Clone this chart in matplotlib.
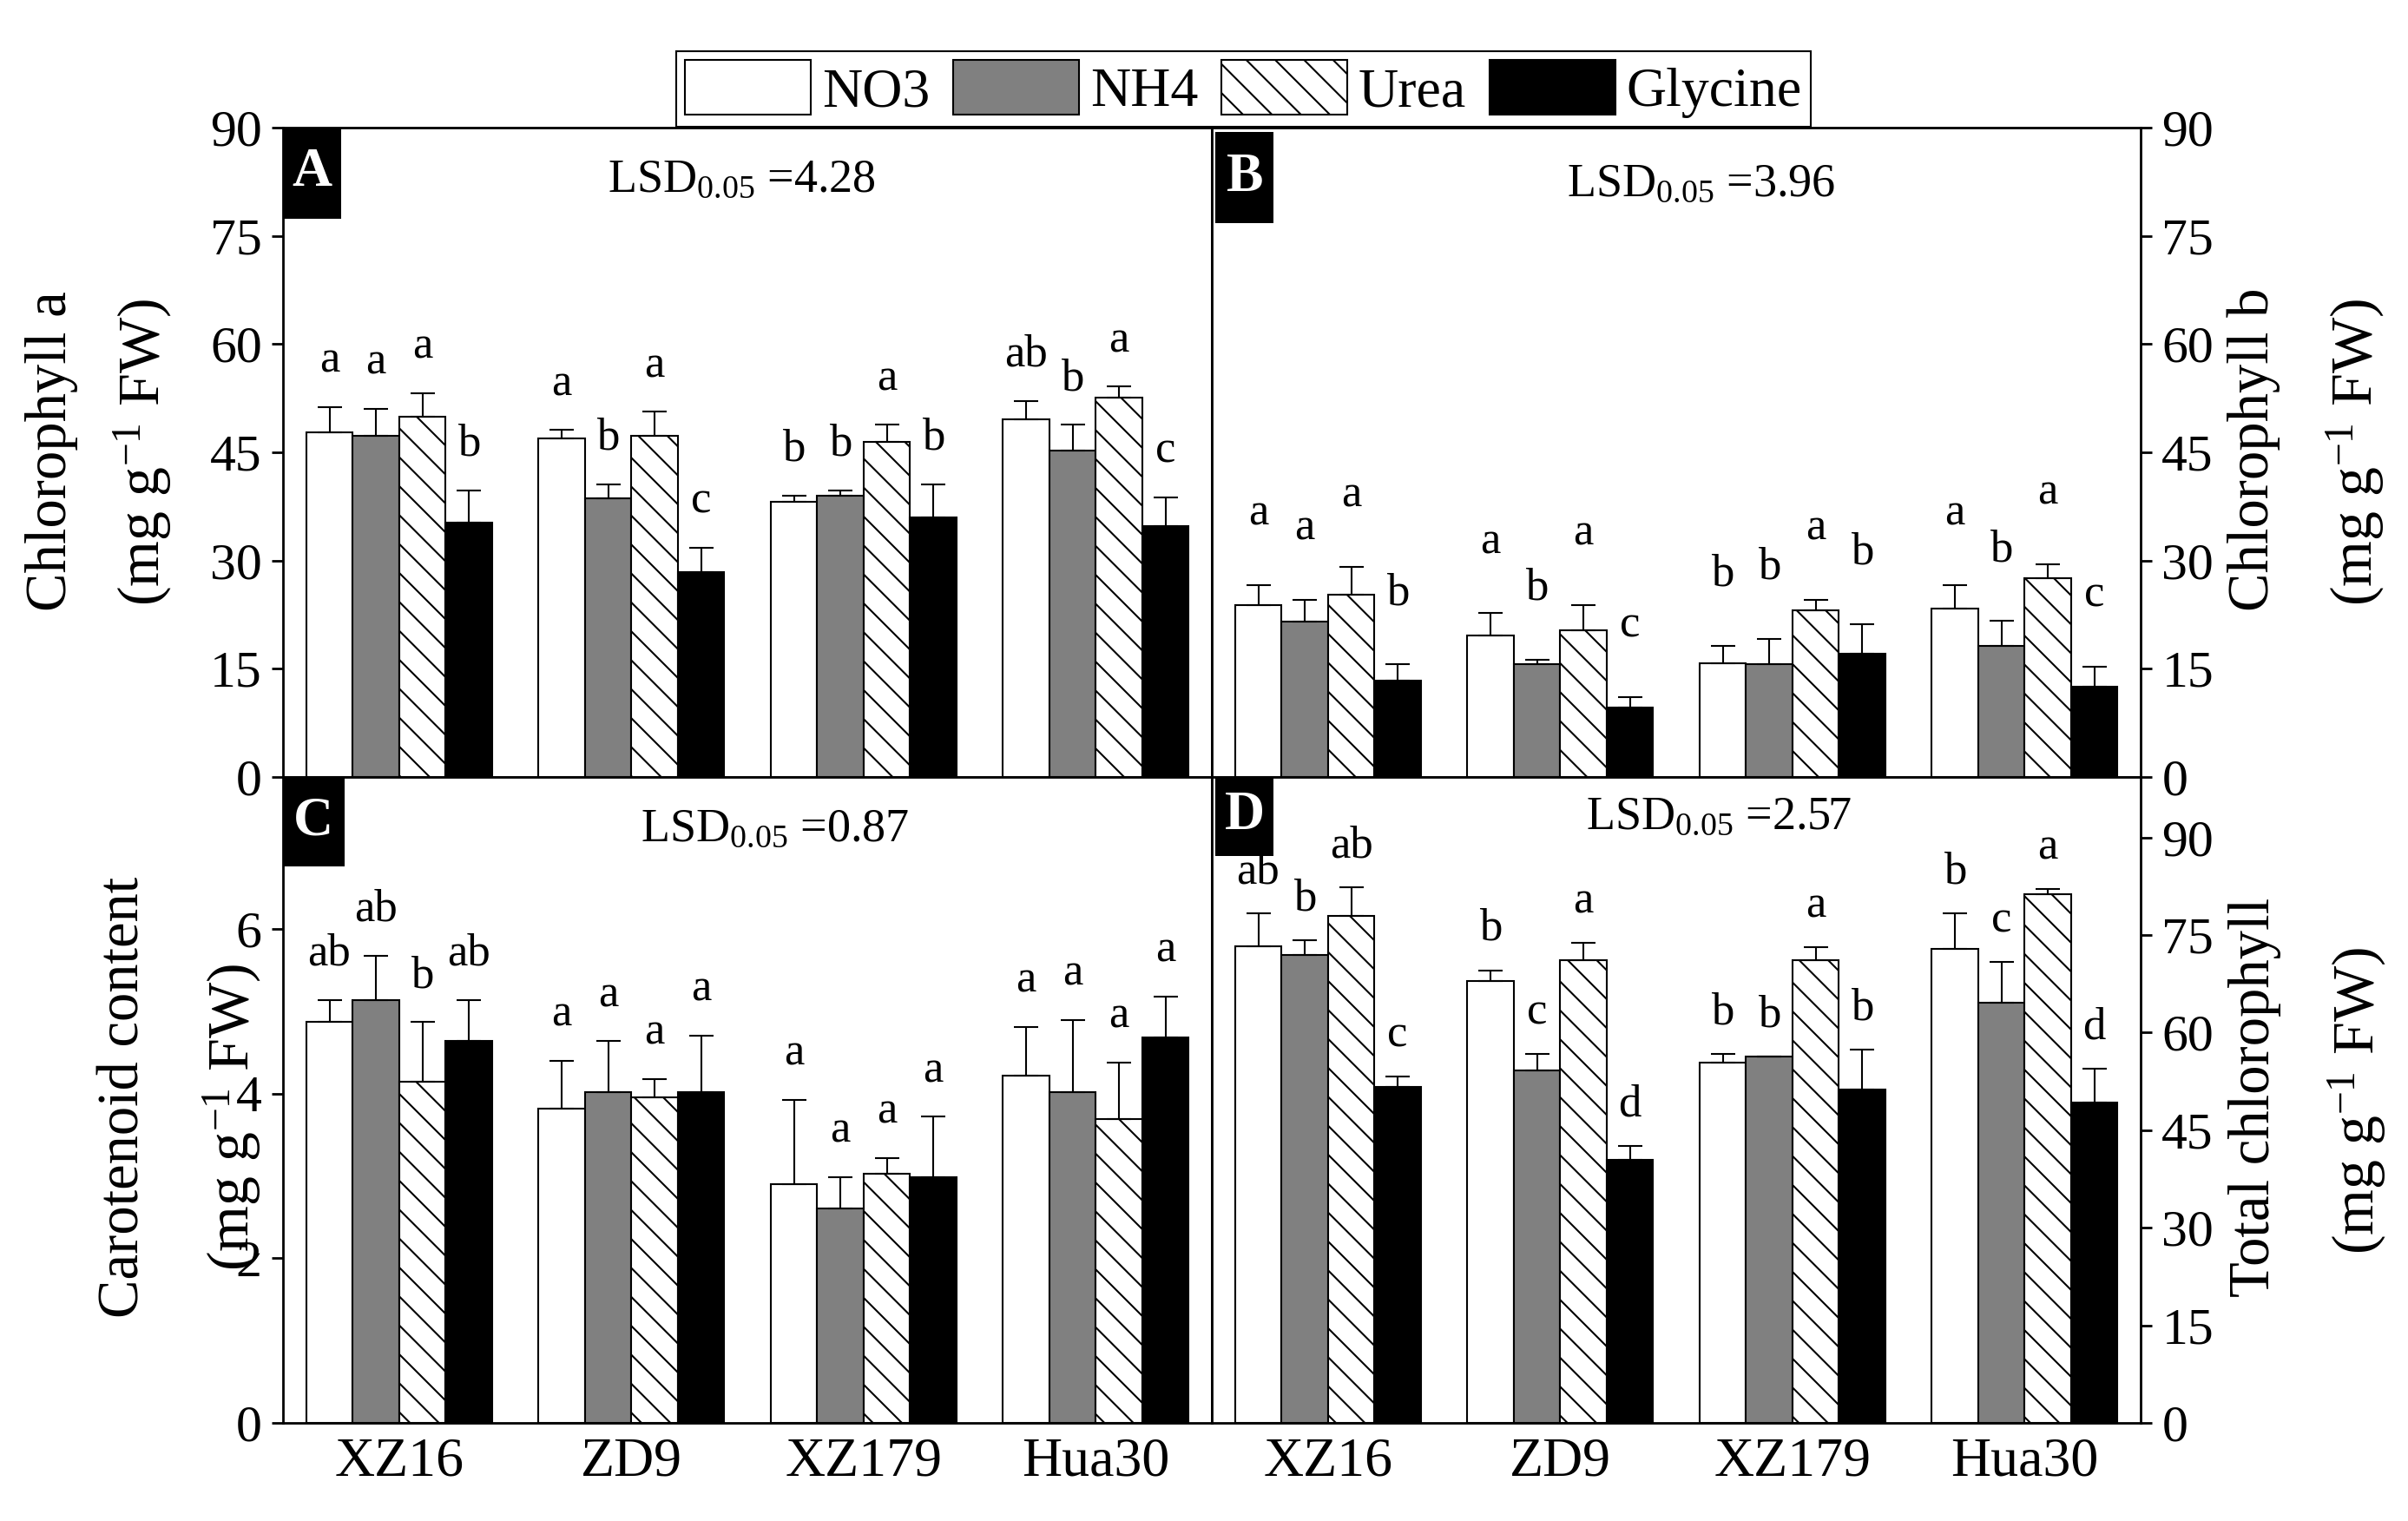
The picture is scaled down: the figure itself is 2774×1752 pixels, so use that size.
import numpy as np
import matplotlib
matplotlib.use("Agg")
import matplotlib.pyplot as plt
from matplotlib.patches import Patch, Rectangle

plt.rcParams['font.family'] = ['Liberation Serif', 'DejaVu Serif']
plt.rcParams['mathtext.fontset'] = 'custom'
plt.rcParams['mathtext.rm'] = 'Liberation Serif'
plt.rcParams['mathtext.it'] = 'Liberation Serif:italic'
plt.rcParams['mathtext.bf'] = 'Liberation Serif:bold'
plt.rcParams['hatch.linewidth'] = 1.5

cultivars = ["XZ16", "ZD9", "XZ179", "Hua30"]
treatments = ["NO3", "NH4", "Urea", "Glycine"]

# Panel A: Chlorophyll a (rows: NO3, NH4, Urea, Glycine; cols: cultivars)
chla_mean = [[47.8, 46.9, 38.1, 49.6],
             [47.3, 38.6, 39.0, 45.3],
             [49.9, 47.3, 46.5, 52.6],
             [35.2, 28.4, 36.0, 34.8]]
chla_err = [[3.5, 1.2, 0.9, 2.5],
            [3.7, 2.0, 0.7, 3.5],
            [3.3, 3.3, 2.3, 1.5],
            [4.5, 3.4, 4.6, 4.0]]
chla_let = [["a", "a", "b", "ab"],
            ["a", "b", "b", "b"],
            ["a", "a", "a", "a"],
            ["b", "c", "b", "c"]]

# Panel B: Chlorophyll b
chlb_mean = [[23.8, 19.6, 15.8, 23.4],
             [21.5, 15.6, 15.6, 18.2],
             [25.3, 20.3, 23.1, 27.6],
             [13.4, 9.6, 17.1, 12.5]]
chlb_err = [[2.8, 3.1, 2.4, 3.2],
            [3.1, 0.7, 3.5, 3.4],
            [3.8, 3.5, 1.5, 1.9],
            [2.2, 1.5, 4.1, 2.8]]
chlb_let = [["a", "a", "b", "a"],
            ["a", "b", "b", "b"],
            ["a", "a", "a", "a"],
            ["b", "c", "b", "c"]]

# Panel C: Carotenoid content
car_mean = [[4.87, 3.82, 2.90, 4.22],
            [5.14, 4.02, 2.61, 4.02],
            [4.15, 3.96, 3.03, 3.69],
            [4.64, 4.02, 2.99, 4.68]]
car_err = [[0.27, 0.58, 1.03, 0.59],
           [0.54, 0.62, 0.38, 0.88],
           [0.72, 0.22, 0.19, 0.69],
           [0.50, 0.69, 0.73, 0.50]]
car_let = [["ab", "a", "a", "a"],
           ["ab", "a", "a", "a"],
           ["b", "a", "a", "a"],
           ["ab", "a", "a", "a"]]

# Panel D: Total chlorophyll
tot_mean = [[73.3, 67.9, 55.4, 72.9],
            [72.0, 54.2, 56.3, 64.6],
            [77.9, 71.2, 71.2, 81.3],
            [51.7, 40.4, 51.3, 49.3]]
tot_err = [[5.0, 1.7, 1.3, 5.4],
           [2.2, 2.5, 0.0, 6.3],
           [4.5, 2.6, 1.9, 0.8],
           [1.6, 2.2, 6.1, 5.2]]
tot_let = [["ab", "b", "b", "b"],
           ["b", "c", "b", "c"],
           ["ab", "a", "a", "a"],
           ["c", "d", "b", "d"]]

lsd_values = ["4.28", "3.96", "0.87", "2.57"]
panel_ids = ["A", "B", "C", "D"]

W, H = 2774, 1752
fig = plt.figure(figsize=(W / 100, H / 100), dpi=100)
fig.patch.set_facecolor('white')

L, M, R = 326 / W, 1396 / W, 2466 / W
T, MID, B = 1 - 147 / H, 1 - 895 / H, 1 - 1639 / H

axA = fig.add_axes([L, MID, M - L, T - MID])
axB = fig.add_axes([M, MID, R - M, T - MID])
axC = fig.add_axes([L, B, M - L, MID - B])
axD = fig.add_axes([M, B, R - M, MID - B])

facecolors = ['white', '#808080', 'white', 'black']
hatches = [None, None, '\\', None]
bar_w = 0.2
x = np.arange(len(cultivars))

panels = [
    (axA, chla_mean, chla_err, chla_let, (0, 90), np.arange(0, 91, 15), 'left', 21),
    (axB, chlb_mean, chlb_err, chlb_let, (0, 90), np.arange(0, 91, 15), 'right', 42),
    (axC, car_mean, car_err, car_let, (0, 7.85), np.arange(0, 7, 2), 'left', 21),
    (axD, tot_mean, tot_err, tot_let, (0, 99.3), np.arange(0, 91, 15), 'right', 17),
]

lsd_pos = [(0.494, 0.920), (0.527, 0.913), (0.530, 0.919), (0.546, 0.938)]
box_pos = [(0.0, 0.860, 0.0626, 0.140), (0.004, 0.853, 0.0626, 0.140),
           (0.0, 0.862, 0.066, 0.138), (0.004, 0.878, 0.0626, 0.122)]

for k, (ax, mean, err, let, ylim, yt, side, pad) in enumerate(panels):
    for i in range(4):
        xpos = x + (i - 1.5) * bar_w
        ax.bar(xpos, mean[i], width=bar_w, color=facecolors[i], edgecolor='black',
               linewidth=1.5, hatch=hatches[i], zorder=2)
        ax.errorbar(xpos, mean[i], yerr=[np.zeros(4), err[i]], fmt='none',
                    ecolor='black', elinewidth=1.5, capsize=10, capthick=1.5, zorder=3)
        for j in range(4):
            ax.annotate(let[i][j], (xpos[j], mean[i][j] + err[i][j]),
                        xytext=(0, pad), textcoords='offset points',
                        ha='center', va='bottom', fontsize=38)
    ax.set_xlim(-0.5, 3.5)
    ax.set_ylim(*ylim)
    ax.set_yticks(yt)
    ax.set_yticklabels([str(int(v)) for v in yt])
    for sp in ax.spines.values():
        sp.set_linewidth(2)
    ax.tick_params(axis='y', direction='out', length=9.5, width=2, labelsize=43, pad=8)
    if side == 'right':
        ax.yaxis.tick_right()
    ax.set_xticks(x)
    ax.tick_params(axis='x', length=0, labelsize=46, pad=12)
    if k < 2:
        ax.set_xticklabels([])
    else:
        ax.set_xticklabels(cultivars)
    lx, ly = lsd_pos[k]
    ax.text(lx, ly, "LSD$_{0.05}$ =" + lsd_values[k], transform=ax.transAxes,
            ha='center', va='center', fontsize=39)
    bx, by, bw, bh = box_pos[k]
    ax.add_patch(Rectangle((bx, by), bw, bh, transform=ax.transAxes,
                           facecolor='black', edgecolor='none', zorder=5, clip_on=False))
    ax.text(bx + bw / 2, by + bh / 2, panel_ids[k], transform=ax.transAxes,
            ha='center', va='center', fontsize=46, fontweight='bold', color='white', zorder=6)

# Axis titles
unit = "(mg g$^{-1}$ FW)"
ylabels = [("Chlorophyll a", 60, 520, 165, 521),
           ("Chlorophyll b", 2596, 518, 2714, 521),
           ("Carotenoid content", 143, 1264, 268, 1287),
           ("Total chlorophyll", 2598, 1264, 2716, 1268)]
for name, x1, y1, x2, y2 in ylabels:
    fig.text(x1 / W, 1 - y1 / H, name, rotation=90, ha='center', va='center', fontsize=48)
    fig.text(x2 / W, 1 - y2 / H, unit, rotation=90, ha='center', va='center', fontsize=49)

handles = [Patch(facecolor=facecolors[i], edgecolor='black', linewidth=1.5,
                 hatch=hatches[i]) for i in range(4)]
leg = fig.legend(handles, treatments, loc='upper left',
                 bbox_to_anchor=(779 / W, 1 - 59 / H), ncol=4, frameon=True,
                 fancybox=False, edgecolor='black', framealpha=1, fontsize=46,
                 borderpad=0.16, handlelength=2.27, handleheight=1.13,
                 handletextpad=0.2, columnspacing=0.42, borderaxespad=0)
leg.get_frame().set_linewidth(1.5)

fig.savefig("out.png", dpi=100, facecolor='white')
